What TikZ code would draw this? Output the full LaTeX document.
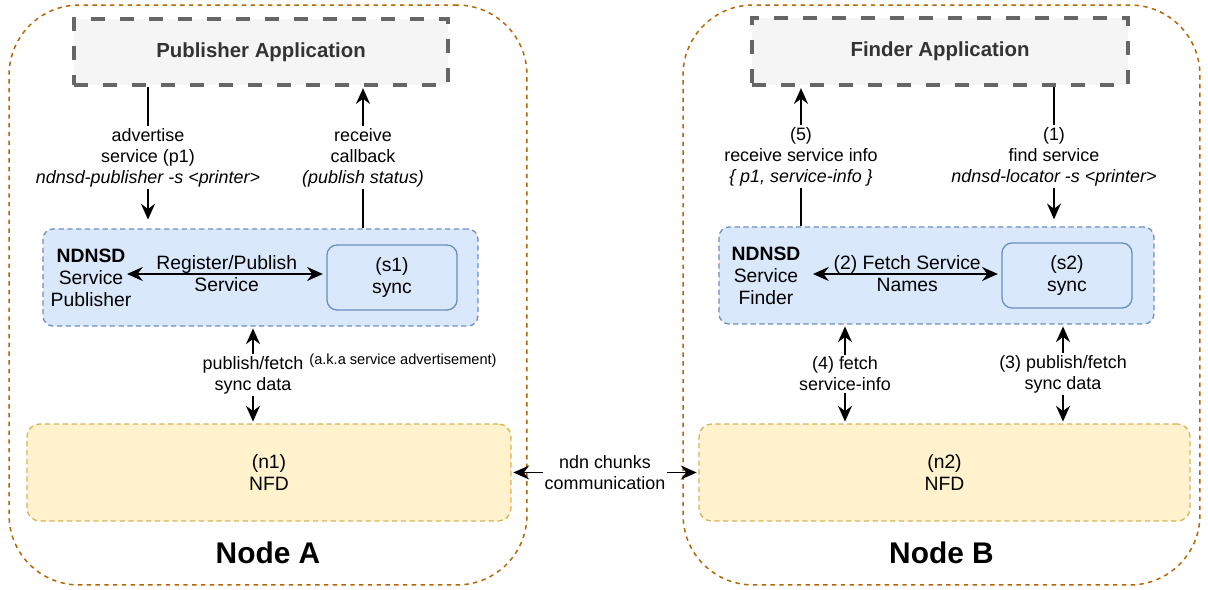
\documentclass[tikz,border=0pt]{standalone}
\usepackage{fontspec}
\setmainfont{Liberation Sans}
\usepackage{xcolor}
\usetikzlibrary{arrows.meta,calc,positioning}

\definecolor{hostline}{HTML}{B46504}
\definecolor{appline}{HTML}{666666}
\definecolor{appfill}{HTML}{F5F5F5}
\definecolor{apptext}{HTML}{333333}
\definecolor{ndline}{HTML}{6C8EBF}
\definecolor{ndfill}{HTML}{DAE8FC}
\definecolor{nfdline}{HTML}{D6B656}
\definecolor{nfdfill}{HTML}{FFF2CC}

\newcommand{\lblfont}{\fontsize{10.2}{12}\selectfont}
\newcommand{\boxfont}{\fontsize{11}{12.5}\selectfont}

\begin{document}
\begin{tikzpicture}[x=0.02cm,y=-0.02cm,
  host/.style={draw=hostline,dash pattern=on 2.5pt off 2.5pt,line width=0.85pt,rounded corners=1.4cm},
  hosttitle/.style={font=\fontsize{17}{20}\selectfont\bfseries},
  appbox/.style={draw=appline,fill=appfill,line width=1.8pt,dash pattern=on 8pt off 8.5pt,text=apptext,font=\fontsize{11.6}{14}\selectfont\bfseries},
  ndbox/.style={draw=ndline,fill=ndfill,dash pattern=on 3pt off 2pt,line width=0.75pt,rounded corners=0.2cm},
  syncbox/.style={draw=ndline,fill=ndfill,line width=0.75pt,rounded corners=0.2cm,align=center,font=\boxfont},
  nfdbox/.style={draw=nfdline,fill=nfdfill,dash pattern=on 3pt off 2pt,line width=0.75pt,rounded corners=0.25cm,align=center,font=\boxfont},
  txt/.style={align=center,font=\boxfont,inner sep=1pt},
  lbl/.style={fill=white,align=center,inner sep=1pt,font=\lblfont},
  small/.style={font=\fontsize{8.3}{9}\selectfont,inner sep=1pt},
  flow/.style={line width=0.8pt,-{Stealth[length=9pt,width=8pt,inset=3pt]}},
  flow2/.style={line width=0.8pt,{Stealth[length=9pt,width=8pt,inset=3pt]}-{Stealth[length=9pt,width=8pt,inset=3pt]}}]
\useasboundingbox (0,0) rectangle (1208,590);

% hosts
\node[host,minimum width=10.36cm,minimum height=11.6cm] (hostA) at (268,295) {};
\node[host,minimum width=10.34cm,minimum height=11.6cm] (hostB) at (941.5,295) {};
\node[hosttitle] (titleA) at (268,553) {Node A};
\node[hosttitle] (titleB) at (941.5,553) {Node B};

% applications
\node[appbox,minimum width=7.48cm,minimum height=1.32cm] (pubapp) at (261,52) {Publisher Application};
\node[appbox,minimum width=7.52cm,minimum height=1.34cm] (findapp) at (940,51.5) {Finder Application};

% ndnsd parts
\node[ndbox,minimum width=8.7cm,minimum height=1.94cm] (pubnd) at (260.5,277.5) {};
\node[syncbox,minimum width=2.6cm,minimum height=1.3cm] (s1) at (392,277.5) {(s1)\\sync};
\node[txt] (pubname) at (91,278) {\textbf{NDNSD}\\Service\\Publisher};
\node[ndbox,minimum width=8.7cm,minimum height=1.94cm] (findnd) at (936.5,275.5) {};
\node[syncbox,minimum width=2.6cm,minimum height=1.3cm] (s2) at (1067,275.5) {(s2)\\sync};
\node[txt] (findname) at (766,276) {\textbf{NDNSD}\\Service\\Finder};

% forwarders
\node[nfdbox,minimum width=9.68cm,minimum height=1.94cm] (n1) at (269,472.5) {(n1)\\NFD};
\node[nfdbox,minimum width=9.82cm,minimum height=1.94cm] (n2) at (944.5,472.5) {(n2)\\NFD};

% columns of the vertical arrows
\coordinate (c1) at (148,0);
\coordinate (c2) at (363,0);
\coordinate (c3) at (253,0);
\coordinate (c4) at (801,0);
\coordinate (c5) at (1054,0);
\coordinate (c6) at (845,0);
\coordinate (c7) at (1063,0);
\coordinate (regl) at (127,274);
\coordinate (fetl) at (813,274);

% node A
\draw[flow,shorten >=5pt] (pubapp.south -| c1) -- node[lbl] {advertise\\service (p1)\\\textit{ndnsd-publisher -s <printer>}} (pubnd.north -| c1);
\draw[flow,shorten >=0.9pt] (pubnd.north -| c2) -- node[lbl] {receive\\callback\\\textit{(publish status)}} (pubapp.south -| c2);
\draw[flow2,shorten >=2pt] (regl) -- node[txt] {Register/Publish\\Service} (s1.west |- regl);
\draw[flow2,shorten <=1pt,shorten >=1pt] (pubnd.south -| c3) -- node[lbl] {publish/fetch\\sync data} (n1.north -| c3);
\node[small] (aka) at (403,361) {(a.k.a service advertisement)};

% between the hosts
\draw[flow2,shorten <=1pt,shorten >=1pt] (n1.east) -- node[lbl] {ndn chunks\\communication} (n2.west);

% node B
\draw[flow,shorten >=0.9pt] (findnd.north -| c4) -- node[lbl] {(5)\\receive service info\\\textit{\{ p1, service-info \}}} (findapp.south -| c4);
\draw[flow,shorten >=4pt] (findapp.south -| c5) -- node[lbl] {(1)\\find service\\\textit{ndnsd-locator -s <printer>}} (findnd.north -| c5);
\draw[flow2,shorten >=2pt] (fetl) -- node[txt] {(2) Fetch Service\\Names} (s2.west |- fetl);
\draw[flow2,shorten <=1pt,shorten >=1pt] (findnd.south -| c6) -- node[lbl] {(4) fetch\\service-info} (n2.north -| c6);
\draw[flow2,shorten <=1pt,shorten >=1pt] (findnd.south -| c7) -- node[lbl] {(3) publish/fetch\\sync data} (n2.north -| c7);
\end{tikzpicture}
\end{document}
